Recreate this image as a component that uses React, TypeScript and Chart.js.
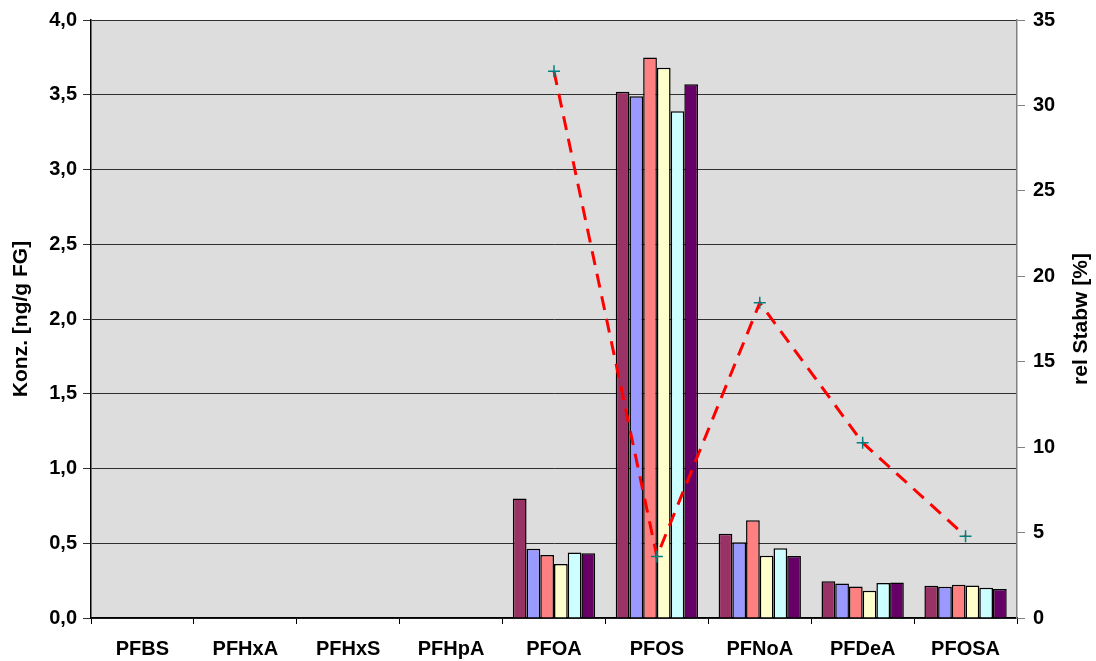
import React, { useEffect, useRef } from "react";
import { Chart, registerables } from "chart.js";

Chart.register(...registerables);

const categories = ["PFBS", "PFHxA", "PFHxS", "PFHpA", "PFOA", "PFOS", "PFNoA", "PFDeA", "PFOSA"];
const series1 = [null, null, null, null, 0.8, 3.52, 0.563, 0.245, 0.216];
const series2 = [null, null, null, null, 0.463, 3.49, 0.507, 0.231, 0.209];
const series3 = [null, null, null, null, 0.421, 3.75, 0.654, 0.211, 0.223];
const series4 = [null, null, null, null, 0.362, 3.68, 0.416, 0.183, 0.218];
const series5 = [null, null, null, null, 0.438, 3.39, 0.467, 0.234, 0.203];
const series6 = [null, null, null, null, 0.433, 3.57, 0.414, 0.238, 0.194];
const relStabw = [null, null, null, null, 32.0, 3.6, 18.45, 10.26, 4.79];

const leftTitle = "Konz. [ng/g FG]";
const rightTitle = "rel Stabw [%]";

const barColors = ["#993366", "#9999FF", "#FF8080", "#FFFFCC", "#CCFFFF", "#660066"];
const barSeries = [series1, series2, series3, series4, series5, series6];

const FONT = "'Liberation Sans', Arial, sans-serif";

export default function App() {
  const ref = useRef<HTMLCanvasElement | null>(null);
  useEffect(() => {
    if (!ref.current) return;
    const bgPlugin = {
      id: "plotBg",
      beforeDraw(chart: any) {
        const { ctx, chartArea } = chart;
        ctx.save();
        ctx.fillStyle = "#DDDDDD";
        ctx.fillRect(chartArea.left, chartArea.top, chartArea.right - chartArea.left, chartArea.bottom - chartArea.top);
        ctx.restore();
      },
      afterDraw(chart: any) {
        const { ctx, chartArea } = chart;
        ctx.save();
        ctx.translate(1081, (chartArea.top + chartArea.bottom) / 2);
        ctx.rotate(-Math.PI / 2);
        ctx.fillStyle = "#000000";
        ctx.font = "bold 21px " + FONT;
        ctx.textAlign = "center";
        ctx.textBaseline = "middle";
        ctx.fillText(rightTitle, 0, 0);
        ctx.restore();
      },
    };
    const chart = new Chart(ref.current, {
      type: "bar",
      data: {
        labels: categories,
        datasets: [
          {
            type: "line",
            label: "rel Stabw",
            data: relStabw,
            yAxisID: "y1",
            borderColor: "#FF0000",
            borderWidth: 3,
            borderDash: [14, 9],
            pointStyle: "cross",
            pointRadius: 6,
            pointBorderColor: "#008080",
            pointBorderWidth: 1.5,
            pointBackgroundColor: "#008080",
            fill: false,
            tension: 0,
            order: 0,
          } as any,
          ...barSeries.map((s, i) => ({
            type: "bar" as const,
            label: "S" + (i + 1),
            data: s,
            yAxisID: "y",
            backgroundColor: barColors[i],
            borderColor: "#000000",
            borderWidth: 1.5,
            borderSkipped: "bottom",
            categoryPercentage: 0.8,
            barPercentage: 1.0,
            order: 1,
          })),
        ],
      },
      options: {
        animation: false,
        responsive: false,
        maintainAspectRatio: false,
        layout: { padding: { top: 19, left: 0, right: 0, bottom: 0 } },
        plugins: { legend: { display: false }, tooltip: { enabled: false } },
        scales: {
          x: {
            grid: {
              offset: true,
              drawOnChartArea: false,
              drawTicks: true,
              tickLength: 6,
              color: "#000000",
            },
            border: { color: "#000000", width: 1.5 },
            ticks: {
              color: "#000000",
              font: { family: FONT, size: 20, weight: "bold" },
              padding: 13,
              maxRotation: 0,
            },
            afterFit(axis: any) {
              axis.height = 43;
            },
          },
          y: {
            position: "left",
            min: 0,
            max: 4,
            grid: {
              color: "#303030",
              lineWidth: 1,
              tickLength: 8,
              drawTicks: true,
            },
            border: { color: "#000000", width: 1.5 },
            ticks: {
              stepSize: 0.5,
              color: "#000000",
              padding: 6,
              font: { family: FONT, size: 20, weight: "bold" },
              callback: (v: any) => Number(v).toFixed(1).replace(".", ","),
            },
            title: {
              display: true,
              text: leftTitle,
              color: "#000000",
              font: { family: FONT, size: 21, weight: "bold" },
              padding: { top: 9, bottom: 0 },
            },
            afterFit(axis: any) {
              axis.width = 91;
            },
          },
          y1: {
            position: "right",
            min: 0,
            max: 35,
            grid: {
              drawOnChartArea: false,
              tickLength: 8,
              color: "#808080",
            },
            border: { color: "#808080", width: 1.5 },
            ticks: {
              stepSize: 5,
              color: "#000000",
              padding: 8,
              font: { family: FONT, size: 20, weight: "bold" },
            },
            afterFit(axis: any) {
              axis.width = 79;
            },
          },
        },
      },
      plugins: [bgPlugin],
    } as any);
    return () => chart.destroy();
  }, []);
  return (
    <div style={{ position: "fixed", left: 0, top: 0, width: 1096, height: 661, background: "#FFFFFF" }}>
      <canvas ref={ref} width={1096} height={661} style={{ width: 1096, height: 661, display: "block" }} />
    </div>
  );
}
